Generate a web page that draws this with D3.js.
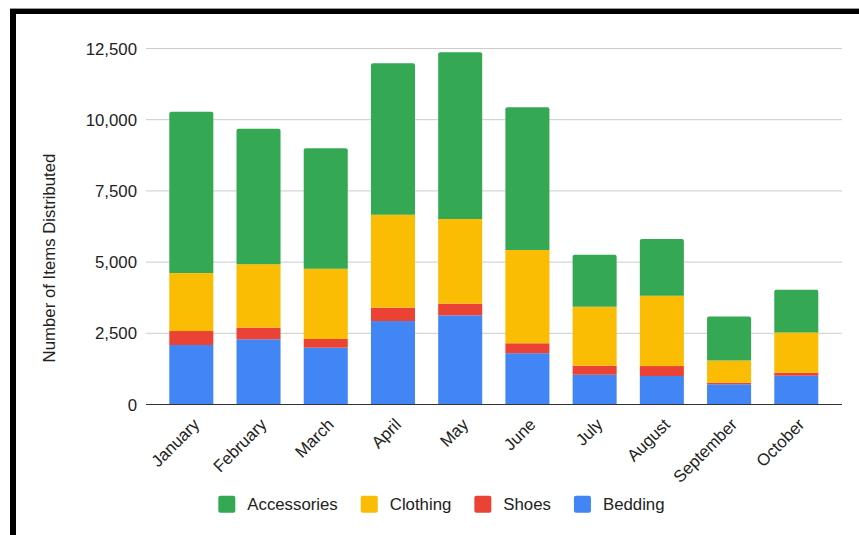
<!DOCTYPE html>
<html><head><meta charset="utf-8">
<script src="https://cdn.jsdelivr.net/npm/d3@7"></script>
<style>
html,body{margin:0;padding:0;background:#fff;}
svg{display:block;font-family:"Liberation Sans",Arial,sans-serif;}
</style></head>
<body>
<svg id="chart" width="859" height="535"></svg>
<script>
const months = ["January","February","March","April","May","June","July","August","September","October"];
const bedding = [2090, 2290, 1995, 2930, 3130, 1800, 1045, 1000, 710, 1010];
const shoes = [490, 410, 305, 470, 410, 350, 315, 350, 58, 106];
const clothing = [2035, 2225, 2470, 3265, 2975, 3275, 2070, 2470, 775, 1415];
const accessories = [5665, 4760, 4225, 5315, 5850, 5010, 1825, 1990, 1545, 1500];
const seriesNames = ["Bedding","Shoes","Clothing","Accessories"];
const seriesColors = ["#4285f4","#ea4335","#fbbc04","#34a853"];
const yTicks = [0, 2500, 5000, 7500, 10000, 12500];
const legendOrder = ["Accessories","Clothing","Shoes","Bedding"];

const svg = d3.select("#chart");
// frame
svg.append("rect").attr("x",10).attr("y",8).attr("width",849).attr("height",1).attr("fill","#999");
svg.append("rect").attr("x",10).attr("y",9).attr("width",849).attr("height",5).attr("fill","#000");
svg.append("rect").attr("x",10).attr("y",9).attr("width",6).attr("height",526).attr("fill","#000");

const rows = months.map((m,i)=>({month:m, Bedding:bedding[i], Shoes:shoes[i], Clothing:clothing[i], Accessories:accessories[i]}));
const stack = d3.stack().keys(seriesNames)(rows);

const x = d3.scaleBand().domain(months).range([157.7, 829.9]).paddingInner(0.345).paddingOuter(0.1725);
const y = d3.scaleLinear().domain([0, 12500]).range([404.5, 48.5]);
const color = d3.scaleOrdinal().domain(seriesNames).range(seriesColors);

// gridlines
svg.append("g").selectAll("line").data(yTicks.filter(t=>t>0)).join("line")
  .attr("x1",146).attr("x2",842).attr("y1",d=>y(d)).attr("y2",d=>y(d))
  .attr("stroke","#cccccc").attr("stroke-width",1);

// y tick labels
svg.append("g").selectAll("text").data(yTicks).join("text")
  .attr("x",137).attr("y",d=>y(d)).attr("dy","0.36em").attr("text-anchor","end")
  .attr("font-size","16.8px").attr("fill","#222")
  .text(d=>d3.format(",")(d));

// bars
const topKey = seriesNames[seriesNames.length-1];
stack.forEach(layer=>{
  const g = svg.append("g");
  layer.forEach((d,i)=>{
    const x0 = x(months[i]), w = x.bandwidth();
    const yt = y(d[1]), yb = y(d[0]);
    const h = yb - yt;
    if (h <= 0) return;
    if (layer.key === topKey) {
      const r = 2;
      g.append("path").attr("fill", color(layer.key))
        .attr("d", `M${x0},${yb}V${yt+r}Q${x0},${yt} ${x0+r},${yt}H${x0+w-r}Q${x0+w},${yt} ${x0+w},${yt+r}V${yb}Z`);
    } else {
      g.append("rect").attr("x",x0).attr("y",yt).attr("width",w).attr("height",h).attr("fill",color(layer.key));
    }
  });
});

// baseline
svg.append("line").attr("x1",146).attr("x2",842).attr("y1",y(0)).attr("y2",y(0))
  .attr("stroke","#333").attr("stroke-width",1.2);

// x labels
svg.append("g").selectAll("text").data(months).join("text")
  .attr("transform",d=>`translate(${x(d)+x.bandwidth()/2+5},${y(0)+17}) rotate(-45)`)
  .attr("text-anchor","end").attr("dy","0.35em")
  .attr("font-size","16.8px").attr("fill","#222").text(d=>d);

// y axis title
svg.append("text").attr("transform",`translate(55,258) rotate(-90)`)
  .attr("text-anchor","middle").attr("font-size","16.8px").attr("fill","#222")
  .text("Number of Items Distributed");

// legend
const lg = svg.append("g");
let lx = 218.3;
legendOrder.forEach(name=>{
  lg.append("rect").attr("x",lx).attr("y",495.7).attr("width",17).attr("height",17).attr("rx",2)
    .attr("fill",color(name));
  const t = lg.append("text").attr("x",lx+29).attr("y",509.5).attr("font-size","16.8px")
    .attr("fill","#222").text(name);
  const w = t.node().getComputedTextLength();
  lx = lx + 29 + w + 23;
});
</script>
</body></html>
